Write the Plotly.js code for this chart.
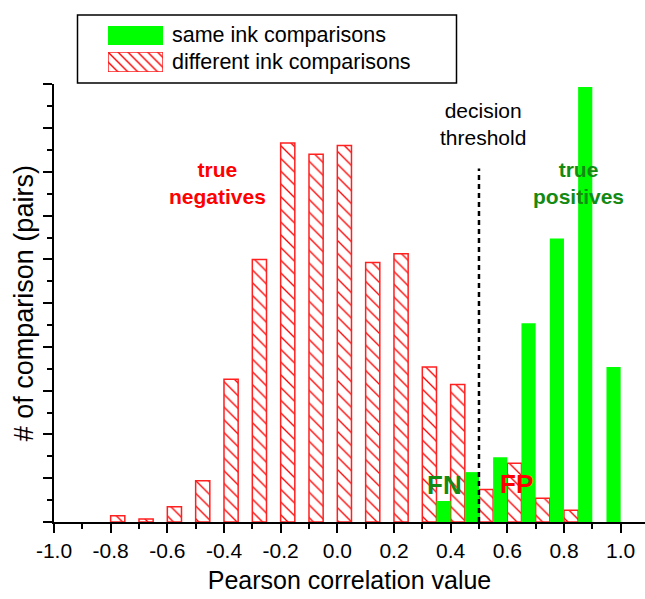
<!DOCTYPE html>
<html>
<head>
<meta charset="utf-8">
<script src="https://cdn.plot.ly/plotly-3.0.1.min.js"></script>
<style>html,body{margin:0;padding:0;background:#fff;}</style>
</head>
<body>
<div id="chart" style="width:645px;height:599px;"></div>
<script>
// ---- data ----
const diffInkBins = [-0.8,-0.7,-0.6,-0.5,-0.4,-0.3,-0.2,-0.1,0.0,0.1,0.2,0.3,0.4,0.5,0.6,0.7,0.8];
const diffInkCounts = [1.4,0.7,3.5,9.4,32.6,60.0,86.6,84.0,86.0,59.3,61.3,35.4,31.4,7.4,13.4,5.4,2.7];
const sameInkBins = [0.4,0.5,0.6,0.7,0.8,0.9,1.0];
const sameInkCounts = [4.8,11.4,14.8,45.4,64.8,99.4,35.4];
const xTickVals = [-1.0,-0.8,-0.6,-0.4,-0.2,0.0,0.2,0.4,0.6,0.8,1.0];
const xTickText = ['-1.0','-0.8','-0.6','-0.4','-0.2','0.0','0.2','0.4','0.6','0.8','1.0'];
const threshold = 0.5;
const thresholdTop = 80.8;
const seriesNames = ['same ink comparisons','different ink comparisons'];

// ---- layout helpers ----
const W = 645, H = 599, ML = 54, MB = 77;
const PW = W - ML, PH = H - MB;
const px = x => (x - ML) / PW;
const py = y => (PH - y) / PH;

const FONT = 'Liberation Sans, Arial, Helvetica, sans-serif';
const GREEN_TXT = '#138a13';

const hatch = {shape:'\\', fgcolor:'#ff0000', bgcolor:'#ffffff', size:9, solidity:0.15};

const traces = [
  {type:'bar', name:seriesNames[1], x:diffInkBins, y:diffInkCounts, width:0.05, offset:0,
   marker:{color:'#ffffff', pattern:hatch, line:{color:'#ff2020', width:1.5}}, hoverinfo:'x+y'},
  {type:'bar', name:seriesNames[0], x:sameInkBins, y:sameInkCounts, width:0.05, offset:-0.05,
   marker:{color:'#00ff00', line:{width:0}}, hoverinfo:'x+y'},
  // legend swatches
  {type:'bar', x:[0], y:[1], width:[1], xaxis:'x2', yaxis:'y2', showlegend:false, hoverinfo:'skip',
   marker:{color:'#00ff00', line:{width:0}}},
  {type:'bar', x:[0], y:[1], width:[1], xaxis:'x3', yaxis:'y3', showlegend:false, hoverinfo:'skip',
   marker:{color:'#ffffff', pattern:{shape:'\\', fgcolor:'#ff0000', bgcolor:'#ffffff', size:7, solidity:0.2}, line:{color:'#ff2020', width:1.5}}}
];

const swX = [px(108), px(163)];
const layout = {
  width:W, height:H,
  margin:{l:ML, r:0, t:0, b:MB, pad:0},
  paper_bgcolor:'#ffffff', plot_bgcolor:'#ffffff',
  barmode:'overlay', showlegend:false,
  font:{family:FONT, color:'#000000'},
  xaxis:{
    range:[-1.0, 1.086], domain:[0,1], anchor:'y',
    tickmode:'array', tickvals:xTickVals, ticktext:xTickText,
    ticks:'outside', ticklen:9, tickwidth:2, tickcolor:'#000',
    showline:true, linewidth:2, linecolor:'#000',
    showgrid:false, zeroline:false,
    tickfont:{size:21, family:FONT, color:'#000'},
    minor:{tickmode:'linear', tick0:-1, dtick:0.1, ticks:'outside', ticklen:5, tickwidth:2, tickcolor:'#000', showgrid:false},
    title:{text:'Pearson correlation value', font:{size:25, family:FONT, color:'#000'}, standoff:10}
  },
  yaxis:{
    range:[0,100], domain:[0, 1 - 84.35/PH], anchor:'x',
    tickmode:'linear', tick0:0, dtick:10,
    ticks:'outside', ticklen:9, tickwidth:2, tickcolor:'#000',
    showticklabels:false,
    showline:true, linewidth:2, linecolor:'#000',
    showgrid:false, zeroline:false,
    minor:{tickmode:'linear', tick0:0, dtick:5, ticks:'outside', ticklen:5, tickwidth:2, tickcolor:'#000', showgrid:false},
    title:{text:'# of comparison (pairs)', font:{size:27, family:FONT, color:'#000'}, standoff:2}
  },
  xaxis2:{domain:swX, anchor:'y2', range:[-0.5,0.5], visible:false, fixedrange:true},
  yaxis2:{domain:[py(45), py(26)], anchor:'x2', range:[0,1], visible:false, fixedrange:true},
  xaxis3:{domain:swX, anchor:'y3', range:[-0.5,0.5], visible:false, fixedrange:true},
  yaxis3:{domain:[py(72), py(52)], anchor:'x3', range:[0,1], visible:false, fixedrange:true},
  shapes:[
    {type:'rect', xref:'paper', yref:'paper', x0:px(77.5), x1:px(456.5), y0:py(83), y1:py(15),
     line:{color:'#000', width:1.5}, fillcolor:'rgba(0,0,0,0)', layer:'below'},
    {type:'line', xref:'x', yref:'y', x0:threshold, x1:threshold, y0:0, y1:thresholdTop,
     line:{color:'#000', width:2.5, dash:'5px,4px'}, layer:'above'}
  ],
  annotations:[
    {xref:'paper', yref:'paper', x:px(170), y:py(35), xanchor:'left', yanchor:'middle', showarrow:false,
     text:seriesNames[0], font:{size:21.5, family:FONT, color:'#000'}},
    {xref:'paper', yref:'paper', x:px(170), y:py(62), xanchor:'left', yanchor:'middle', showarrow:false,
     text:seriesNames[1], font:{size:21.5, family:FONT, color:'#000'}},
    {xref:'paper', yref:'paper', x:px(483), y:py(124), xanchor:'center', yanchor:'middle', showarrow:false,
     text:'decision<br>threshold', align:'center', font:{size:21, family:FONT, color:'#000'}},
    {xref:'paper', yref:'paper', x:px(217), y:py(183), xanchor:'center', yanchor:'middle', showarrow:false,
     text:'<b>true<br>negatives</b>', align:'center', font:{size:21, family:FONT, color:'#ff0000'}},
    {xref:'paper', yref:'paper', x:px(578), y:py(183), xanchor:'center', yanchor:'middle', showarrow:false,
     text:'<b>true<br>positives</b>', align:'center', font:{size:21, family:FONT, color:GREEN_TXT}},
    {xref:'paper', yref:'paper', x:px(444), y:py(485), xanchor:'center', yanchor:'middle', showarrow:false,
     text:'<b>FN</b>', font:{size:26, family:FONT, color:GREEN_TXT}},
    {xref:'paper', yref:'paper', x:px(516), y:py(484), xanchor:'center', yanchor:'middle', showarrow:false,
     text:'<b>FP</b>', font:{size:26, family:FONT, color:'#ff0000'}}
  ]
};

Plotly.newPlot('chart', traces, layout, {displayModeBar:false, staticPlot:true});
</script>
</body>
</html>
